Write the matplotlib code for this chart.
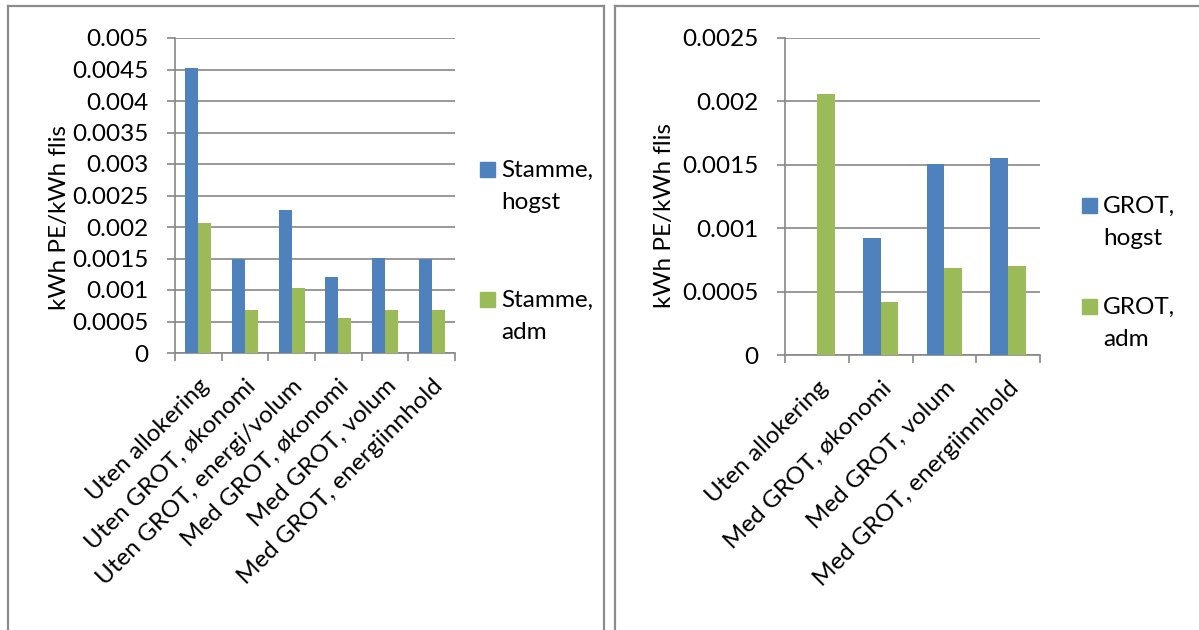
import numpy as np
import matplotlib
matplotlib.use("Agg")
import matplotlib.pyplot as plt
from matplotlib.patches import Rectangle
from matplotlib.lines import Line2D

plt.rcParams['font.family'] = ['Lato', 'DejaVu Sans']

# Stamme (stem wood)
stamme_cats = ['Uten allokering', 'Uten GROT, økonomi', 'Uten GROT, energi/volum',
               'Med GROT, økonomi', 'Med GROT, volum', 'Med GROT, energiinnhold']
stamme_hogst = [0.00452, 0.00150, 0.00227, 0.00120, 0.00151, 0.00149]
stamme_adm = [0.00206, 0.00069, 0.00103, 0.00055, 0.00069, 0.00068]
stamme_ticks = [0, 0.0005, 0.001, 0.0015, 0.002, 0.0025, 0.003, 0.0035, 0.004, 0.0045, 0.005]
stamme_ticklabels = ['0', '0.0005', '0.001', '0.0015', '0.002', '0.0025', '0.003',
                     '0.0035', '0.004', '0.0045', '0.005']

# GROT (logging residues)
grot_cats = ['Uten allokering', 'Med GROT, økonomi', 'Med GROT, volum', 'Med GROT, energiinnhold']
grot_hogst = [0.0, 0.00092, 0.00151, 0.00155]
grot_adm = [0.00206, 0.00042, 0.00069, 0.00070]
grot_ticks = [0, 0.0005, 0.001, 0.0015, 0.002, 0.0025]
grot_ticklabels = ['0', '0.0005', '0.001', '0.0015', '0.002', '0.0025']

BLUE = '#4F81BD'
GREEN = '#9BBB59'
GRID = '#878787'
FS = 17.5

W, H = 1199, 630
fig = plt.figure(figsize=(W / 100, H / 100), dpi=100)


def px(x0, y0, x1, y1):
    # pixel box (top-left origin) -> figure fraction rect
    return [x0 / W, 1 - y1 / H, (x1 - x0) / W, (y1 - y0) / H]


def bar_panel(rect, cats, hogst, adm, ticks, ticklabels, ylim, label_xy):
    ax = fig.add_axes(rect)
    n = len(cats)
    x = np.arange(n)
    bw = 0.28
    ax.bar(x - bw / 2, hogst, bw, color=BLUE, zorder=3)
    ax.bar(x + bw / 2, adm, bw, color=GREEN, zorder=3)
    ax.set_xlim(-0.5, n - 0.5)
    ax.set_ylim(0, ylim)
    ax.set_yticks(ticks)
    ax.set_yticklabels(ticklabels, fontsize=FS)
    ax.yaxis.grid(True, color=GRID, linewidth=1.2, zorder=0)
    ax.set_xticks(x)
    ax.set_xticklabels(cats, rotation=45, ha='right', rotation_mode='anchor', fontsize=FS)
    ax.tick_params(axis='x', length=0, pad=16)
    ax.set_xticks(np.arange(n + 1) - 0.5, minor=True)
    ax.tick_params(axis='x', which='minor', length=6, width=1.2, color=GRID, direction='out')
    ax.tick_params(axis='y', length=6, width=1.2, color=GRID, direction='out', pad=13)
    for s in ['top', 'right']:
        ax.spines[s].set_visible(False)
    for s in ['left', 'bottom']:
        ax.spines[s].set_color(GRID)
        ax.spines[s].set_linewidth(1.2)
    ax.set_ylabel('kWh PE/kWh flis', fontsize=FS)
    ax.yaxis.set_label_coords(*label_xy)
    return ax


ax1 = bar_panel(px(175, 38, 455, 353), stamme_cats, stamme_hogst, stamme_adm,
                stamme_ticks, stamme_ticklabels, 0.005, (-0.375, 0.43))
ax2 = bar_panel(px(785, 38, 1040, 355), grot_cats, grot_hogst, grot_adm,
                grot_ticks, grot_ticklabels, 0.0025, (-0.43, 0.44))


def legend_entry(xs, ys, color, lines):
    # square key; first label line sits on the key's bottom edge
    fig.patches.append(Rectangle((xs / W, 1 - (ys + 15) / H), 15 / W, 15 / H,
                                 color=color, transform=fig.transFigure))
    for i, line in enumerate(lines):
        fig.text((xs + 21) / W, 1 - (ys + 15 + 32 * i) / H, line, fontsize=FS,
                 va='baseline', ha='left')


legend_entry(480, 162, BLUE, ['Stamme,', 'hogst'])
legend_entry(480, 292, GREEN, ['Stamme,', 'adm'])
legend_entry(1082, 198, BLUE, ['GROT,', 'hogst'])
legend_entry(1082, 299, GREEN, ['GROT,', 'adm'])

# chart frames
frame = dict(color='#8c8c8c', linewidth=1.6, transform=fig.transFigure)
for xf in [8, 604, 615]:
    fig.lines.append(Line2D([xf / W, xf / W], [0, 1 - 6 / H], **frame))
fig.lines.append(Line2D([8 / W, 604 / W], [1 - 6 / H, 1 - 6 / H], **frame))
fig.lines.append(Line2D([615 / W, 1], [1 - 6 / H, 1 - 6 / H], **frame))

fig.savefig('out.png', dpi=100)
